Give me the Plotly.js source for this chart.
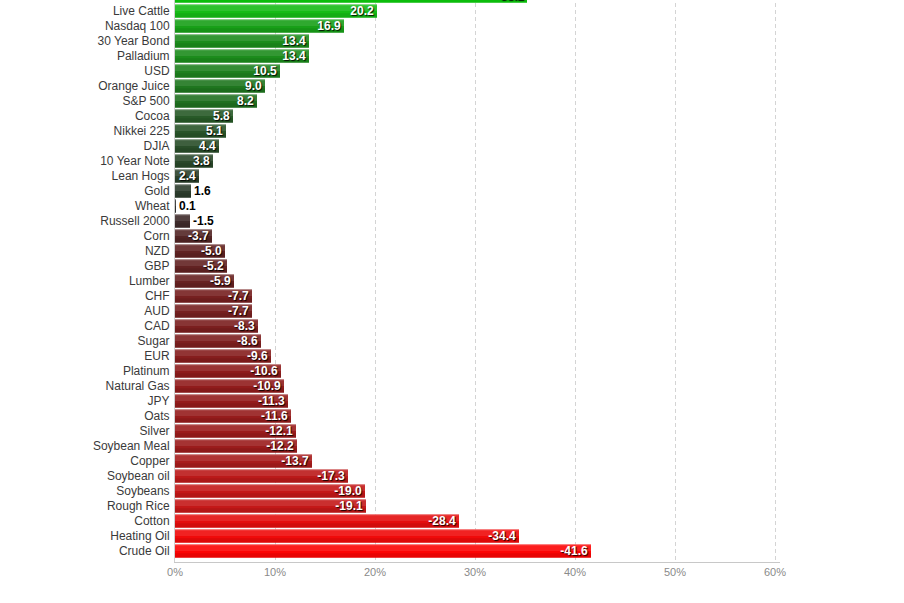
<!DOCTYPE html>
<html>
<head>
<meta charset="utf-8">
<script src="https://cdn.plot.ly/plotly-3.0.1.min.js"></script>
<style>
html,body{margin:0;padding:0;background:#fff;overflow:hidden;width:904px;height:603px;}
#chart{position:absolute;left:0;top:-19px;width:904px;height:622px;}
</style>
</head>
<body>
<div id="chart"></div>
<script>
// Data (percent change)
const markets = ["Feeder Cattle","Live Cattle","Nasdaq 100","30 Year Bond","Palladium","USD","Orange Juice","S&P 500","Cocoa","Nikkei 225","DJIA","10 Year Note","Lean Hogs","Gold","Wheat","Russell 2000","Corn","NZD","GBP","Lumber","CHF","AUD","CAD","Sugar","EUR","Platinum","Natural Gas","JPY","Oats","Silver","Soybean Meal","Copper","Soybean oil","Soybeans","Rough Rice","Cotton","Heating Oil","Crude Oil"];
const changes = [35.2,20.2,16.9,13.4,13.4,10.5,9.0,8.2,5.8,5.1,4.4,3.8,2.4,1.6,0.1,-1.5,-3.7,-5.0,-5.2,-5.9,-7.7,-7.7,-8.3,-8.6,-9.6,-10.6,-10.9,-11.3,-11.6,-12.1,-12.2,-13.7,-17.3,-19.0,-19.1,-28.4,-34.4,-41.6];
const xTickVals = [0,10,20,30,40,50,60];
const xTickText = ["0%","10%","20%","30%","40%","50%","60%"];

// colour anchors (style)
const anchors = [
  [-41.6,[252,4,4]],[-34.4,[240,10,10]],[-28.4,[228,14,14]],[-19.0,[196,24,24]],
  [-13.7,[168,28,28]],[-10.6,[142,28,28]],[-7.7,[118,32,32]],[-5.0,[96,34,34]],
  [-1.5,[62,42,42]],[0,[48,48,48]],[1.6,[44,60,44]],[3.8,[42,72,42]],[5.8,[40,90,40]],
  [8.2,[32,112,32]],[10.5,[30,128,30]],[13.4,[28,140,28]],[16.9,[24,160,24]],
  [20.2,[22,188,22]],[35.2,[14,206,14]]
];
function colorFor(v){
  if(v<=anchors[0][0]) return 'rgb('+anchors[0][1].join(',')+')';
  for(let i=1;i<anchors.length;i++){
    if(v<=anchors[i][0]){
      const a=anchors[i-1],b=anchors[i];
      const t=(v-a[0])/(b[0]-a[0]);
      const c=a[1].map((x,k)=>Math.round(x+(b[1][k]-x)*t));
      return 'rgb('+c.join(',')+')';
    }
  }
  return 'rgb('+anchors[anchors.length-1][1].join(',')+')';
}

const mags = changes.map(v=>Math.abs(v));
const labels = changes.map(v=>v.toFixed(1));
const colors = changes.map(colorFor);
const positions = mags.map(m=> m < 2 ? 'outside' : 'inside');

const base = {
  type:'bar', orientation:'h', x:mags, y:markets,
  marker:{color:colors, line:{width:0}}, width:0.9, offset:-0.45,
  hoverinfo:'skip', showlegend:false
};
const highlight = {
  type:'bar', orientation:'h', x:mags, y:markets,
  marker:{color:'rgba(255,255,255,0.10)', line:{width:0}}, width:0.45, offset:-0.45,
  hoverinfo:'skip', showlegend:false
};
const topline = {
  type:'bar', orientation:'h', x:mags, y:markets,
  marker:{color:'rgba(255,255,255,0.35)', line:{width:0}}, width:0.07, offset:-0.45,
  hoverinfo:'skip', showlegend:false
};
const shade = {
  type:'bar', orientation:'h', x:mags, y:markets,
  marker:{color:'rgba(0,0,0,0.08)', line:{width:0}}, width:0.3, offset:0.15,
  hoverinfo:'skip', showlegend:false
};
const textTrace = {
  type:'bar', orientation:'h', x:mags, y:markets,
  marker:{color:'rgba(0,0,0,0)', line:{width:0}}, width:0.9, offset:-0.45,
  text:labels, textposition:positions, insidetextanchor:'end', constraintext:'none',
  cliponaxis:false,
  insidetextfont:{family:'Liberation Sans, Arial, sans-serif', size:12, color:'#ffffff', weight:'bold', shadow:'1px 1px 1px rgba(0,0,0,0.9)'},
  outsidetextfont:{family:'Liberation Sans, Arial, sans-serif', size:12, color:'#000000', weight:'bold'},
  hoverinfo:'skip', showlegend:false
};

const layout = {
  width:904, height:622,
  margin:{l:175, r:124, t:8, b:41},
  paper_bgcolor:'#ffffff', plot_bgcolor:'#ffffff',
  barmode:'overlay',
  showlegend:false,
  xaxis:{
    range:[0,60.5], tickvals:xTickVals, ticktext:xTickText,
    showgrid:true, gridcolor:'#d4d4d4', griddash:'4px,3px', gridwidth:1,
    zeroline:false, showline:true, linecolor:'#c8c8c8', linewidth:1,
    ticks:'', tickfont:{family:'Liberation Sans, Arial, sans-serif', size:11, color:'#8a8a8a'},
    fixedrange:true
  },
  yaxis:{
    type:'category', range:[37.733,-0.467],
    showgrid:false, zeroline:false, showline:true, linecolor:'#d0d0d0', linewidth:1,
    ticks:'', ticklabelstandoff:2,
    tickfont:{family:'Liberation Sans, Arial, sans-serif', size:12, color:'#3a3a3a'},
    fixedrange:true
  }
};

Plotly.newPlot('chart',[base,highlight,shade,topline,textTrace],layout,{displayModeBar:false,staticPlot:true});
</script>
</body>
</html>
